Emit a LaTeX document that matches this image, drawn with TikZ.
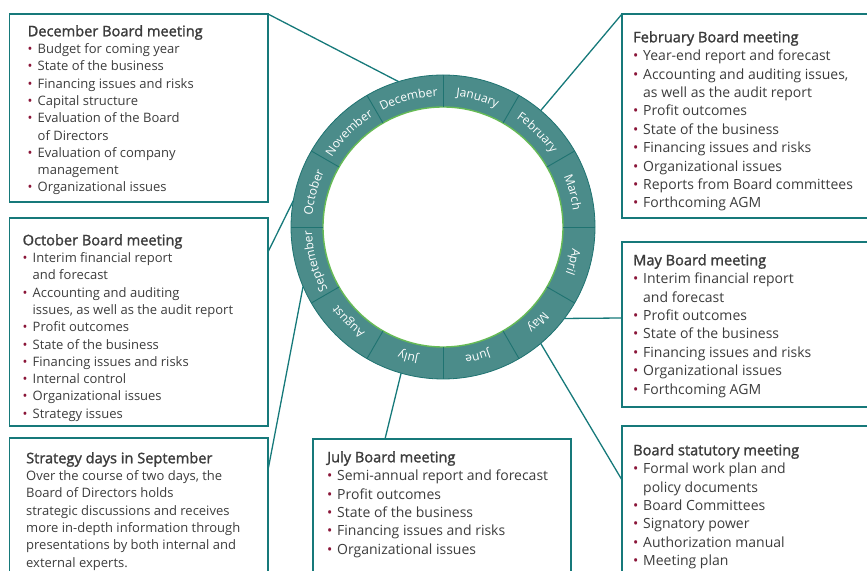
\documentclass[tikz,border=0pt]{standalone}
\usepackage{fontspec}
\setmainfont{Open Sans}
\newfontfamily\headfont{Open Sans}[FakeBold=1.6]
\usetikzlibrary{positioning}
\usetikzlibrary{decorations.text}
\definecolor{ringfill}{HTML}{4B8C8A}
\definecolor{ringline}{HTML}{1F7371}
\definecolor{linkteal}{HTML}{16797A}
\definecolor{innergreen}{HTML}{66BB55}
\definecolor{textgray}{HTML}{3C3C3C}
\definecolor{bulletred}{HTML}{8A1538}
\newcommand{\itm}{\makebox[10pt][l]{\textcolor{bulletred}{\textbullet}}}
\newcommand{\cnt}{\hspace*{10pt}}
\newcommand{\hd}[1]{{\headfont\fontsize{14.6}{17.3}\selectfont #1}}
\newcommand{\monthfont}{\fontsize{12}{12}\selectfont\color{white}}
\tikzset{x=1pt, y=1pt,
panel/.style={ % Sets the properties for each box
draw=linkteal,
line width=1.6pt,
anchor=north west,
outer sep=0pt},
paneltext/.style={
anchor=north west,
inner sep=0pt,
align=left,
text=textgray,
font=\fontsize{13}{17.3}\selectfont},
bigtext/.style={ % boxes on the right and below are set a bit larger
paneltext,
font=\fontsize{14}{18.4}\selectfont},
every edge/.style={ % Sets the properties for each connector
draw=linkteal,
line width=1.3pt}}

\begin{document}
\begin{tikzpicture}
\useasboundingbox (0,0) rectangle (867,570);
% boxes
\node[panel, minimum width=258.5pt, minimum height=188pt] (dec) at (9.5,556) {};
\node[panel, minimum width=258.5pt, minimum height=208pt] (oct) at (9.5,352) {};
\node[panel, minimum width=258.5pt, minimum height=160pt] (strat) at (9.5,132) {};
\node[panel, minimum width=260pt, minimum height=204pt] (feb) at (622,556) {};
\node[panel, minimum width=260pt, minimum height=165pt] (may) at (622,328) {};
\node[panel, minimum width=260pt, minimum height=160pt] (stat) at (622,144) {};
\node[panel, minimum width=258pt, minimum height=160pt] (jul) at (313,131) {};
% ring
\node[circle, fill=ringfill, draw=ringline, line width=0.8pt, outer sep=0pt, inner sep=0pt, minimum size=304pt] (ring) at (443,343) {};
\node[circle, fill=white, draw=innergreen, line width=1.4pt, outer sep=0pt, inner sep=0pt, minimum size=240pt] (hole) at (ring.center) {};
\foreach \a in {0,30,...,330}
  \draw[ringline, line width=0.9pt] (hole.\a) -- (ring.\a);
\foreach \mon/\ang in {January/75,February/45,March/15,April/-15,May/-45,June/-75,July/-105,August/-135,September/-165,October/165,November/135,December/105}
  \path[decorate, decoration={text along path, text/.expanded={|\noexpand\monthfont|\mon}, text align=center}]
    ([shift={(\ang+15:131)}]ring.center) arc[start angle=\ang+15, end angle=\ang-15, radius=131];
% connectors
\draw (dec.north east) edge (ring.107);
\draw (feb.north west) edge (ring.50);
\draw ([yshift=-34pt]oct.north east) edge (ring.170);
\draw ([yshift=-32pt]strat.north east) edge (ring.203);
\draw ([xshift=72pt]jul.north west) edge (ring.254);
\draw ([yshift=-54pt]stat.north west) edge (ring.310);
\draw ([yshift=-76pt]may.north west) edge (ring.323);
% texts
\node[paneltext] (dectxt) at ([shift={(18,-11)}]dec.north west) {\hd{December Board meeting}\\
\itm Budget for coming year\\
\itm State of the business\\
\itm Financing issues and risks\\
\itm Capital structure\\
\itm Evaluation of the Board\\
\cnt of Directors\\
\itm Evaluation of company\\
\cnt management\\
\itm Organizational issues};
\node[paneltext] (octtxt) at ([shift={(13,-16)}]oct.north west) {\hd{October Board meeting}\\
\itm Interim financial report\\
\cnt and forecast\\
\itm Accounting and auditing\\
\cnt issues, as well as the audit report\\
\itm Profit outcomes\\
\itm State of the business\\
\itm Financing issues and risks\\
\itm Internal control\\
\itm Organizational issues\\
\itm Strategy issues};
\node[paneltext] (strattxt) at ([shift={(16.5,-14)}]strat.north west) {\hd{Strategy days in September}\\
Over the course of two days, the\\
Board of Directors holds\\
strategic discussions and receives\\
more in-depth information through\\
presentations by both internal and\\
external experts.};
\node[bigtext] (febtxt) at ([shift={(11,-17)}]feb.north west) {\hd{February Board meeting}\\
\itm Year-end report and forecast\\
\itm Accounting and auditing issues,\\
\cnt as well as the audit report\\
\itm Profit outcomes\\
\itm State of the business\\
\itm Financing issues and risks\\
\itm Organizational issues\\
\itm Reports from Board committees\\
\itm Forthcoming AGM};
\node[bigtext] (maytxt) at ([shift={(11,-12)}]may.north west) {\hd{May Board meeting}\\
\itm Interim financial report\\
\cnt and forecast\\
\itm Profit outcomes\\
\itm State of the business\\
\itm Financing issues and risks\\
\itm Organizational issues\\
\itm Forthcoming AGM};
\node[bigtext] (stattxt) at ([shift={(11,-18)}]stat.north west) {\hd{Board statutory meeting}\\
\itm Formal work plan and\\
\cnt policy documents\\
\itm Board Committees\\
\itm Signatory power\\
\itm Authorization manual\\
\itm Meeting plan};
\node[bigtext] (jultxt) at ([shift={(14,-12)}]jul.north west) {\hd{July Board meeting}\\
\itm Semi-annual report and forecast\\
\itm Profit outcomes\\
\itm State of the business\\
\itm Financing issues and risks\\
\itm Organizational issues};
\end{tikzpicture}
\end{document}
